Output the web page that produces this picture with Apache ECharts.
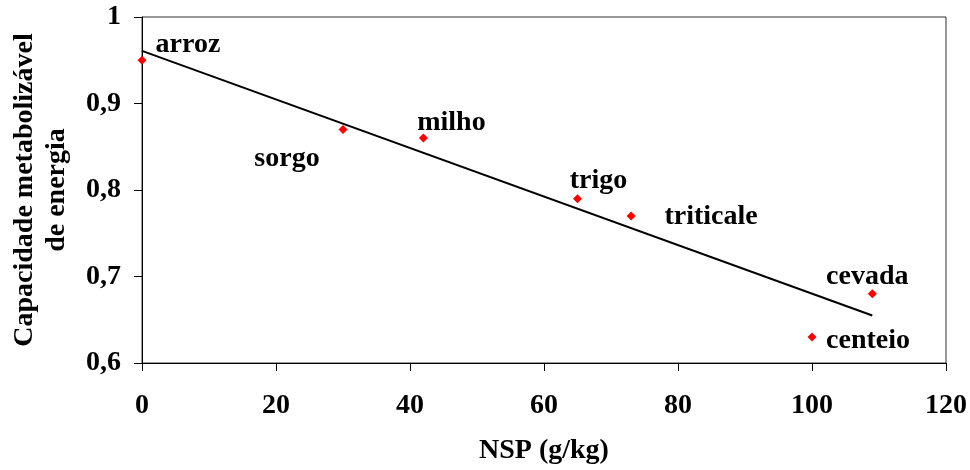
<!DOCTYPE html>
<html>
<head>
<meta charset="utf-8">
<script src="https://cdn.jsdelivr.net/npm/echarts@6/dist/echarts.min.js"></script>
<style>html,body{margin:0;padding:0;background:#fff}#c{width:970px;height:470px}</style>
</head>
<body>
<div id="c"></div>
<script>
// Data
var grains = ['arroz', 'sorgo', 'milho', 'trigo', 'triticale', 'centeio', 'cevada'];
var nsp = [0, 30, 42, 65, 73, 100, 109];
var energy = [0.95, 0.87, 0.86, 0.79, 0.77, 0.63, 0.68];
var xTicks = [0, 20, 40, 60, 80, 100, 120];
var yTicks = [0.6, 0.7, 0.8, 0.9, 1];

// Label placement (style, not data)
var labelOffsets = [[46, -15], [-56, 29], [28, -15], [21, -18], [80, 1], [56, 4], [-5, -17]];

// Linear trendline from the data (least squares)
var n = nsp.length, mx = 0, my = 0;
for (var i = 0; i < n; i++) { mx += nsp[i]; my += energy[i]; }
mx /= n; my /= n;
var sxy = 0, sxx = 0;
for (var i = 0; i < n; i++) { sxy += (nsp[i] - mx) * (energy[i] - my); sxx += (nsp[i] - mx) * (nsp[i] - mx); }
var slope = sxy / sxx, intercept = my - slope * mx;
var xMin = Math.min.apply(null, nsp), xMax = Math.max.apply(null, nsp);
var trend = [[xMin, intercept + slope * xMin], [xMax, intercept + slope * xMax]];

var FONT = 'Liberation Serif';
var FS = 28;
var pts = grains.map(function (g, i) {
  return {
    value: [nsp[i], energy[i]],
    name: g,
    label: { offset: labelOffsets[i] }
  };
});

var chart = echarts.init(document.getElementById('c'));
chart.setOption({
  animation: false,
  backgroundColor: '#fff',
  grid: { left: 142, top: 17, right: 22, bottom: 105, show: true, borderColor: '#333', borderWidth: 1, backgroundColor: 'transparent' },
  xAxis: {
    type: 'value', min: xTicks[0], max: xTicks[xTicks.length - 1], interval: 20,
    name: 'NSP (g/kg)', nameLocation: 'middle', nameGap: 74,
    nameTextStyle: { fontFamily: FONT, fontWeight: 'bold', fontSize: FS, color: '#000' },
    axisLine: { show: true, onZero: false, lineStyle: { color: '#000', width: 1 } },
    axisTick: { show: true, inside: false, length: 8, lineStyle: { color: '#000' } },
    axisLabel: { margin: 29, fontFamily: FONT, fontWeight: 'bold', fontSize: FS, color: '#000' },
    splitLine: { show: false }
  },
  yAxis: {
    type: 'value', min: yTicks[0], max: yTicks[yTicks.length - 1], interval: 0.1,
    name: 'Capacidade metabolizável\nde energia', nameLocation: 'middle', nameGap: 69, nameRotate: 90,
    nameTextStyle: { fontFamily: FONT, fontWeight: 'bold', fontSize: FS, color: '#000', lineHeight: 32 },
    axisLine: { show: true, onZero: false, lineStyle: { color: '#000', width: 1 } },
    axisTick: { show: true, inside: false, length: 8, lineStyle: { color: '#000' } },
    axisLabel: {
      margin: 21, fontFamily: FONT, fontWeight: 'bold', fontSize: FS, color: '#000',
      formatter: function (v) { return String(Math.round(v * 10) / 10).replace('.', ','); }
    },
    splitLine: { show: false }
  },
  series: [
    {
      type: 'line', data: trend, symbol: 'none', silent: true,
      lineStyle: { color: '#000', width: 2 }, z: 2
    },
    {
      type: 'scatter', data: pts, symbol: 'diamond', symbolSize: 9,
      itemStyle: { color: '#ff0000', opacity: 1 }, z: 3,
      label: {
        show: true, position: 'inside', formatter: '{b}', opacity: 1,
        textBorderWidth: 0, fontFamily: FONT, fontWeight: 'bold', fontSize: FS, color: '#000'
      }
    }
  ]
});
</script>
</body>
</html>
